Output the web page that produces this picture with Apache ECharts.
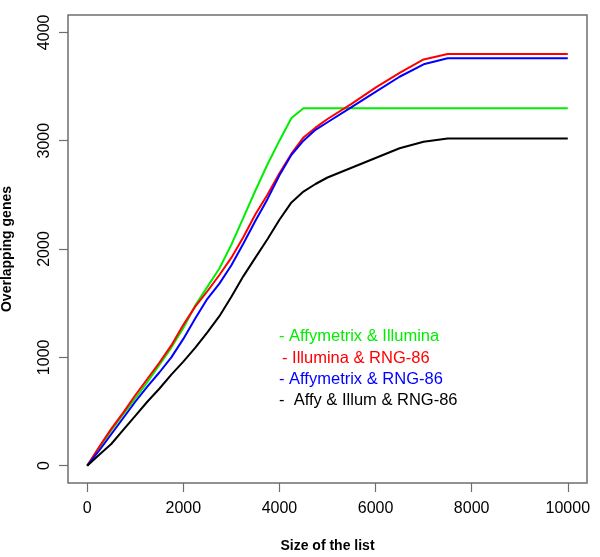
<!DOCTYPE html>
<html>
<head>
<meta charset="utf-8">
<script src="https://cdn.jsdelivr.net/npm/echarts@6/dist/echarts.min.js"></script>
<style>
  html, body { margin: 0; padding: 0; background: #fff; }
  #chart { width: 600px; height: 557px; }
</style>
</head>
<body>
<div id="chart"></div>
<script>
// list sizes (x) shared by all curves
const listSizes = [0, 250, 500, 750, 1000, 1250, 1500, 1750, 2000, 2250, 2500, 2750, 3000, 3250, 3500,
  3750, 4000, 4250, 4500, 4750, 5000, 5500, 6000, 6500, 7000, 7500, 10000];

const affyIllum = [0, 165, 325, 475, 620, 770, 930, 1090, 1270, 1480, 1650, 1820, 2040, 2290, 2540,
  2780, 3000, 3210, 3300, 3300, 3300, 3300, 3300, 3300, 3300, 3300, 3300];
const illumRng = [0, 175, 340, 490, 650, 800, 950, 1110, 1300, 1470, 1610, 1760, 1920, 2110, 2320,
  2500, 2700, 2880, 3030, 3120, 3200, 3340, 3490, 3625, 3750, 3800, 3800];
const affyRng = [0, 140, 290, 440, 590, 730, 860, 1000, 1170, 1360, 1540, 1680, 1850, 2050, 2260,
  2460, 2680, 2870, 3000, 3100, 3170, 3310, 3450, 3590, 3705, 3760, 3760];
const allThree = [0, 100, 200, 330, 460, 590, 710, 840, 960, 1090, 1230, 1380, 1560, 1750, 1920,
  2090, 2270, 2430, 2530, 2600, 2660, 2750, 2840, 2930, 2990, 3020, 3020];

const xTicks = [0, 2000, 4000, 6000, 8000, 10000];
const yTicks = [0, 1000, 2000, 3000, 4000];

const seriesInfo = [
  { name: 'Affymetrix & Illumina', values: affyIllum, color: '#00ee00' },
  { name: 'Illumina & RNG-86', values: illumRng, color: '#ff0000' },
  { name: 'Affymetrix & RNG-86', values: affyRng, color: '#0000ff' },
  { name: 'Affy & Illum & RNG-86', values: allThree, color: '#000000' }
];

const legendLabels = [
  { text: '- Affymetrix & Illumina', color: '#00ee00', x: 279, y: 337 },
  { text: '- Illumina & RNG-86', color: '#ff0000', x: 282, y: 359 },
  { text: '- Affymetrix & RNG-86', color: '#0000ff', x: 279, y: 380 },
  { text: '-  Affy & Illum & RNG-86', color: '#000000', x: 279, y: 401 }
];

const font = 'Liberation Sans, Arial, sans-serif';
const frame = '#6e6e6e';

const chart = echarts.init(document.getElementById('chart'));
chart.setOption({
  animation: false,
  backgroundColor: '#ffffff',
  grid: {
    left: 68, right: 13, top: 15, bottom: 74,
    containLabel: false,
    outerBoundsMode: 'none',
    show: true,
    borderColor: frame,
    borderWidth: 1.5
  },
  xAxis: {
    type: 'value',
    min: -400,
    max: 10400,
    name: 'Size of the list',
    nameLocation: 'middle',
    nameGap: 56,
    nameTextStyle: { fontFamily: font, fontSize: 14, fontWeight: 'bold', color: '#000' },
    splitLine: { show: false },
    axisLine: { show: false, onZero: false },
    axisTick: { show: true, inside: false, length: 9, customValues: xTicks, lineStyle: { color: frame, width: 1.2 } },
    axisLabel: { customValues: xTicks, margin: 18, fontFamily: font, fontSize: 16, color: '#000',
      formatter: v => String(v) }
  },
  yAxis: {
    type: 'value',
    min: -160,
    max: 4160,
    name: 'Overlapping genes',
    nameLocation: 'middle',
    nameGap: 54,
    nameTextStyle: { fontFamily: font, fontSize: 14, fontWeight: 'bold', color: '#000' },
    splitLine: { show: false },
    axisLine: { show: false, onZero: false },
    axisTick: { show: true, inside: false, length: 9, customValues: yTicks, lineStyle: { color: frame, width: 1.2 } },
    axisLabel: { customValues: yTicks, rotate: 90, margin: 15, fontFamily: font, fontSize: 16, color: '#000',
      formatter: v => String(v) }
  },
  series: seriesInfo.map(s => ({
    name: s.name,
    type: 'line',
    showSymbol: false,
    data: listSizes.map((x, i) => [x, s.values[i]]),
    lineStyle: { color: s.color, width: 2 },
    itemStyle: { color: s.color }
  })),
  graphic: legendLabels.map(l => ({
    type: 'text',
    left: l.x,
    top: l.y - 9,
    style: { text: l.text, fill: l.color, font: '16.5px ' + font }
  }))
});
</script>
</body>
</html>
